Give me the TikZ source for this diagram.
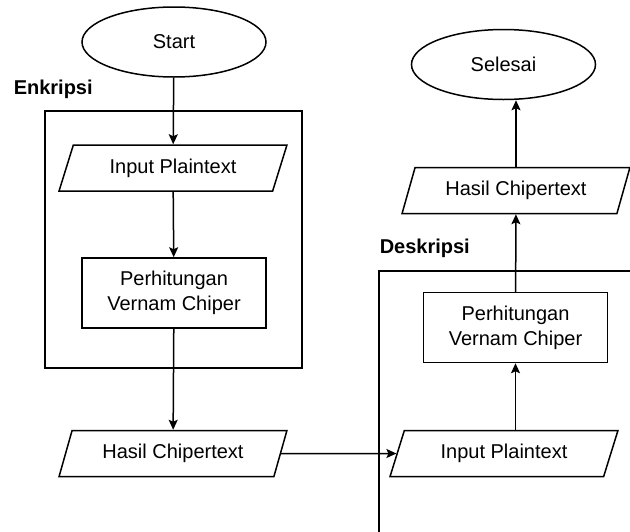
\documentclass[tikz,border=0pt]{standalone}
\usepackage{fontspec}
\setmainfont{Liberation Sans}
\usetikzlibrary{arrows.meta,shapes.geometric}

\begin{document}
\begin{tikzpicture}[x=1pt,y=-1pt,line width=1.5pt,
	font=\fontsize{20}{25}\selectfont,
	terminal/.style={draw,ellipse,minimum width=184pt,minimum height=70pt,inner sep=0pt},
	io/.style={draw,trapezium,trapezium left angle=64,trapezium right angle=116,
		trapezium stretches=true,minimum width=228pt,minimum height=46pt,inner sep=0pt},
	proses/.style={draw,rectangle,minimum width=184pt,minimum height=70pt,align=center,inner sep=0pt},
	panah/.style={-{Stealth[length=10pt,width=9pt,inset=2pt]}},
	judul/.style={font=\fontsize{20}{25}\selectfont\bfseries,anchor=west,inner sep=0pt}]
	\clip (0,0) rectangle (630,531);
	% enkripsi
	\draw (45,111) rectangle (302,368);
	\node[judul] (enk) at (13,89) {Enkripsi};
	\node[terminal] (start) at (174,42) {Start};
	\node[io] (inputA) at (173,168) {Input Plaintext};
	\node[proses] (hitungA) at (174,293) {Perhitungan\\Vernam Chiper};
	\node[io] (hasilA) at (173,453.5) {Hasil Chipertext};
	% deskripsi
	\draw (379,560) -- (379,271) -- (660,271);
	\node[judul] (des) at (379,248) {Deskripsi};
	\node[io] (inputB) at (504,453.5) {Input Plaintext};
	\node[proses] (hitungB) at (515.5,327.5) {Perhitungan\\Vernam Chiper};
	\node[io] (hasilB) at (516,190.5) {Hasil Chipertext};
	\node[terminal] (selesai) at (503.5,64.5) {Selesai};
	% panah
	\draw[panah] (start) -- (inputA);
	\draw[panah] (inputA) -- (hitungA);
	\draw[panah] (hitungA) -- (hasilA);
	\draw[panah] (hasilA.east) -- (inputB.west);
	\draw[panah] (inputB.north -| hitungB.south) -- (hitungB.south);
	\draw[panah] (hitungB) -- (hasilB);
	\draw[panah] (hasilB.north) -- (selesai.south -| hasilB.north);
\end{tikzpicture}
\end{document}
